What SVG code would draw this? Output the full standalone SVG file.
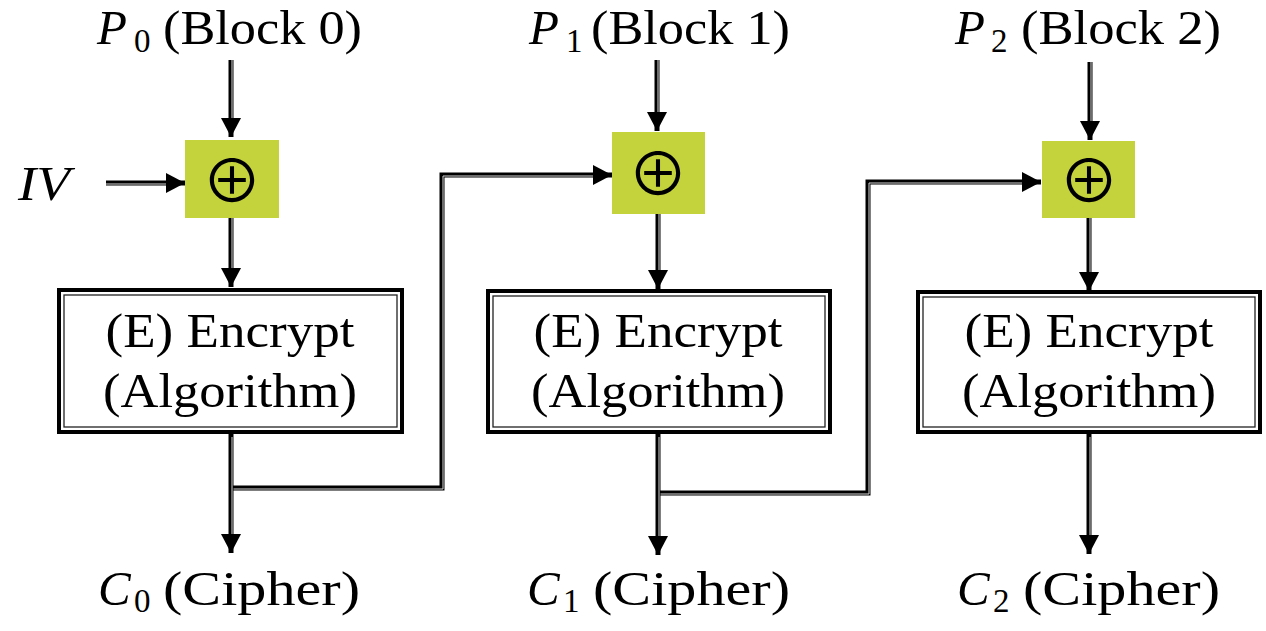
<svg xmlns="http://www.w3.org/2000/svg" width="1266" height="631" viewBox="0 0 1266 631">
<defs>
<marker id="ah" markerUnits="userSpaceOnUse" markerWidth="22" markerHeight="22" refX="19" refY="10" orient="auto">
<path d="M0,0 L19,10 L0,20 z" fill="#000"/>
</marker>
<style>
.t{font-family:"Liberation Serif","Times New Roman",serif;font-size:49px;fill:#000}
.i{font-style:italic}
.sub{font-size:33px}
.x{font-family:"Noto Sans CJK JP","DejaVu Sans",sans-serif;font-size:60px;fill:#000}
.xor{fill:#c4d23c}
.ln{fill:none;stroke:#000;stroke-width:5;stroke-linejoin:miter}
.st{fill:none;stroke:#d8d8d8;stroke-width:1}
.bo{fill:#fff;stroke:#000;stroke-width:4}
.bi{fill:none;stroke:#222;stroke-width:1.3}
</style>
</defs>
<g id="connectors">
<path class="ln" d="M231,60 V137" marker-end="url(#ah)"/>
<path class="ln" d="M657,60 V131" marker-end="url(#ah)"/>
<path class="ln" d="M1090,62 V140" marker-end="url(#ah)"/>
<path class="ln" d="M106,183 H185" marker-end="url(#ah)"/>
<path class="ln" d="M231,218 V287" marker-end="url(#ah)"/>
<path class="ln" d="M658,214 V289" marker-end="url(#ah)"/>
<path class="ln" d="M1089,218 V291" marker-end="url(#ah)"/>
<path class="ln" d="M231,432 V553" marker-end="url(#ah)"/>
<path class="ln" d="M231,488 H442 V175 H612" marker-end="url(#ah)"/>
<path class="ln" d="M658,432 V555" marker-end="url(#ah)"/>
<path class="ln" d="M658,493 H868 V182 H1041" marker-end="url(#ah)"/>
<path class="ln" d="M1089,432 V554" marker-end="url(#ah)"/>
<path class="st" d="M232,60 V118"/>
<path class="st" d="M658,60 V112"/>
<path class="st" d="M1091,62 V121"/>
<path class="st" d="M106,184 H166"/>
<path class="st" d="M232,218 V268"/>
<path class="st" d="M659,214 V270"/>
<path class="st" d="M1090,218 V272"/>
<path class="st" d="M232,437 V534"/>
<path class="st" d="M233.5,489 H443 V176 H593"/>
<path class="st" d="M659,437 V536"/>
<path class="st" d="M660.5,494 H869 V183 H1022"/>
<path class="st" d="M1090,437 V535"/>
</g>
<g id="label-p0"><text class="t" y="44"><tspan class="i" x="97">P</tspan><tspan class="sub" x="134" y="52">0</tspan><tspan x="163" y="44" textLength="199" lengthAdjust="spacingAndGlyphs">(Block 0)</tspan></text></g>
<g id="label-p1"><text class="t" y="44"><tspan class="i" x="529">P</tspan><tspan class="sub" x="566" y="52">1</tspan><tspan x="591" y="44" textLength="199" lengthAdjust="spacingAndGlyphs">(Block 1)</tspan></text></g>
<g id="label-p2"><text class="t" y="44"><tspan class="i" x="955">P</tspan><tspan class="sub" x="991" y="52">2</tspan><tspan x="1021" y="44" textLength="200" lengthAdjust="spacingAndGlyphs">(Block 2)</tspan></text></g>
<g id="label-iv"><text class="t i" x="18" y="200" font-size="52" textLength="52" lengthAdjust="spacingAndGlyphs">IV</text></g>
<g id="xor0"><rect class="xor" x="185" y="140" width="94" height="78"/><text class="x" x="232" y="203" text-anchor="middle">⊕</text></g>
<g id="xor1"><rect class="xor" x="612" y="132" width="93" height="82"/><text class="x" x="658" y="196" text-anchor="middle">⊕</text></g>
<g id="xor2"><rect class="xor" x="1042" y="141" width="93" height="77"/><text class="x" x="1089" y="203" text-anchor="middle">⊕</text></g>
<g id="enc0"><rect class="bo" x="59" y="290" width="343" height="142"/><rect class="bi" x="64" y="295" width="333" height="132"/>
<text class="t" x="230" y="347" text-anchor="middle" textLength="249" lengthAdjust="spacingAndGlyphs">(E) Encrypt</text>
<text class="t" x="230" y="407" text-anchor="middle" textLength="254" lengthAdjust="spacingAndGlyphs">(Algorithm)</text></g>
<g id="enc1"><rect class="bo" x="488" y="291" width="342" height="141"/><rect class="bi" x="493" y="296" width="332" height="131"/>
<text class="t" x="658" y="347" text-anchor="middle" textLength="249" lengthAdjust="spacingAndGlyphs">(E) Encrypt</text>
<text class="t" x="658" y="407" text-anchor="middle" textLength="254" lengthAdjust="spacingAndGlyphs">(Algorithm)</text></g>
<g id="enc2"><rect class="bo" x="918" y="292" width="342" height="140"/><rect class="bi" x="923" y="297" width="332" height="130"/>
<text class="t" x="1089" y="347" text-anchor="middle" textLength="249" lengthAdjust="spacingAndGlyphs">(E) Encrypt</text>
<text class="t" x="1089" y="407" text-anchor="middle" textLength="254" lengthAdjust="spacingAndGlyphs">(Algorithm)</text></g>
<g id="label-c0"><text class="t" y="605"><tspan class="i" x="98">C</tspan><tspan class="sub" x="134" y="612">0</tspan><tspan x="163" y="605" textLength="197" lengthAdjust="spacingAndGlyphs">(Cipher)</tspan></text></g>
<g id="label-c1"><text class="t" y="605"><tspan class="i" x="527">C</tspan><tspan class="sub" x="563" y="612">1</tspan><tspan x="593" y="605" textLength="197" lengthAdjust="spacingAndGlyphs">(Cipher)</tspan></text></g>
<g id="label-c2"><text class="t" y="605"><tspan class="i" x="957">C</tspan><tspan class="sub" x="993" y="612">2</tspan><tspan x="1023" y="605" textLength="197" lengthAdjust="spacingAndGlyphs">(Cipher)</tspan></text></g>
</svg>
